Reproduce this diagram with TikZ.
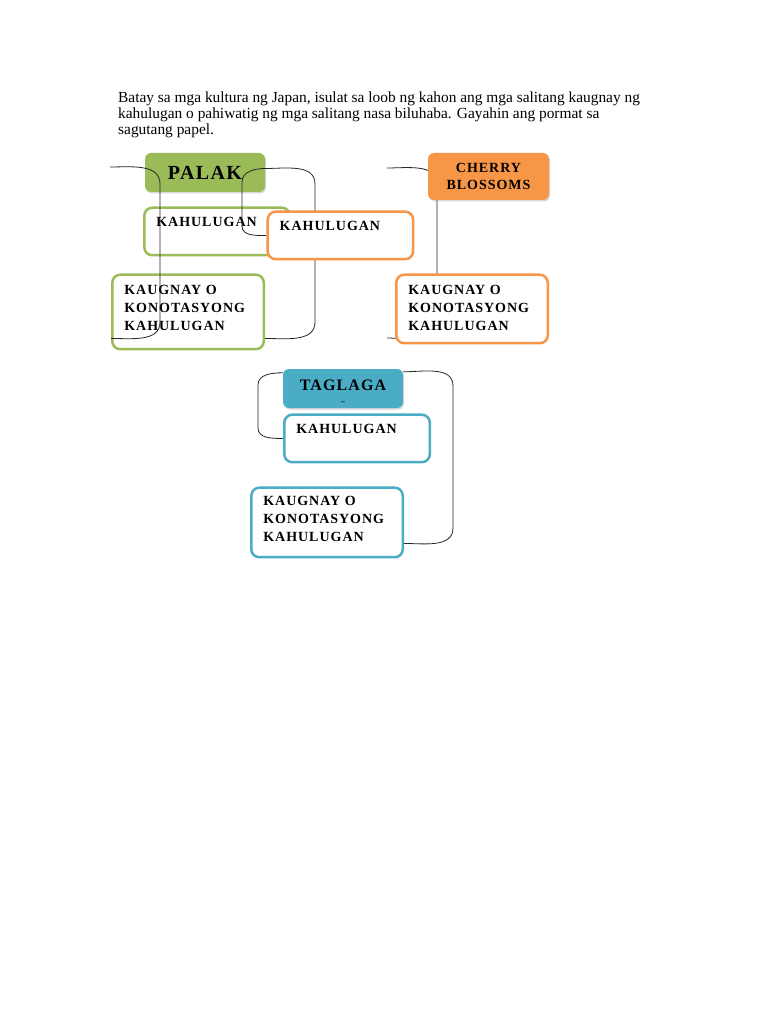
\documentclass[tikz,border=0pt]{standalone}
\usepackage{fontspec}
\setmainfont{Liberation Serif}
\newfontfamily\capsfont[LetterSpace=7]{Liberation Serif}
\usetikzlibrary{positioning,shadows}
\definecolor{palakgreen}{HTML}{9BBB59}
\definecolor{cherryorange}{HTML}{F79646}
\definecolor{taglagablue}{HTML}{4BACC6}
\pgfdeclarelayer{bottom}
\pgfdeclarelayer{wires}
\pgfsetlayers{bottom,wires,main}

\begin{document}
\begin{tikzpicture}[x=1pt, y=-1pt,
	topic/.style={rounded corners=6pt, inner sep=0pt, align=center, font=\capsfont\bfseries\fontsize{14}{17}\selectfont, drop shadow={shadow xshift=1pt, shadow yshift=-1.5pt, opacity=0.3}},
	subbox/.style={draw, line width=2.5pt, rounded corners=8pt, fill=white, align=left, inner xsep=12pt, font=\capsfont\bfseries\fontsize{14}{18}\selectfont},
	meaning/.style={subbox, text width=121.5pt, inner ysep=8pt, text height=11pt, text depth=20.5pt},
	relation/.style={subbox, text width=127.5pt, inner ysep=0pt},
	brace/.style={line width=0.8pt, black!85}]
	\useasboundingbox (0,0) rectangle (768,1024);
	\node[anchor=base west, align=left, inner sep=0pt, font=\fontsize{15.4}{16}\selectfont] (intro) at (118,135)
		{Batay sa mga kultura ng Japan, isulat sa loob ng kahon ang mga salitang kaugnay ng\\
		kahulugan o pahiwatig ng mga salitang nasa biluhaba. Gayahin ang pormat sa\\
		sagutang papel.};

	% palak
	\begin{pgfonlayer}{bottom}
	\fill[white] (0,0) rectangle (768,1024);
	\node[topic, fill=palakgreen, minimum width=120pt, minimum height=39pt, font=\capsfont\bfseries\fontsize{20}{22}\selectfont] (palak) at (205,172.5) {PALAK};
	\node[meaning, draw=palakgreen, below right=14.25pt and -1.75pt of palak.south west] (kahG) {KAHULUGAN};
	\node[relation, draw=palakgreen, minimum height=74.5pt, text depth=44pt, below right=81.25pt and -33.75pt of palak.south west] (kaugG) {KAUGNAY O\\KONOTASYONG\\KAHULUGAN};
	\end{pgfonlayer}
	\node[meaning, draw=cherryorange, below right=18.25pt and 1.25pt of palak.south east] (kahO) {KAHULUGAN};

	% cherry blossoms
	\node[topic, fill=cherryorange, minimum width=121pt, minimum height=47pt] (cherry) at (488.5,176.5) {CHERRY\\BLOSSOMS};
	\node[relation, draw=cherryorange, minimum height=68.5pt, text depth=38pt, below right=73.25pt and -32.75pt of cherry.south west] (kaugO) {KAUGNAY O\\KONOTASYONG\\KAHULUGAN};

	% taglagas
	\node[topic, fill=taglagablue, minimum width=120pt, minimum height=39pt, text height=32pt, font=\capsfont\bfseries\fontsize{16}{14}\selectfont] (taglaga) at (343,388.5) {TAGLAGA\\[0pt]{\fontsize{7}{7}\selectfont\textasciitilde}};
	\node[meaning, draw=taglagablue, below right=5.25pt and 0.25pt of taglaga.south west] (kahB) {KAHULUGAN};
	\node[relation, draw=taglagablue, minimum height=69.5pt, text depth=43pt, below right=78.25pt and -32.75pt of taglaga.south west] (kaugB) {KAUGNAY O\\KONOTASYONG\\KAHULUGAN};

	\coordinate (palakfree) at (110,167);
	\coordinate (cherryfree) at (387,168);
	\coordinate (cherryend) at (387,338);

	\begin{pgfonlayer}{wires}
	\draw[brace] (palakfree) to[out=0, in=90] (160,184) -- (160,322) to[out=-90, in=0] ([yshift=-26.5pt]kaugG.west);
	\draw[brace] ([yshift=4pt]palak.east) to[out=180, in=90] (242,182) -- (242,226) to[out=-90, in=180] (kahO.west);
	\draw[brace] ([yshift=4pt]palak.east) to[out=0, in=90] (315,184) -- (315,322) to[out=-90, in=0] ([yshift=-26.5pt]kaugG.east);
	\draw[brace] (cherryfree) to[out=0, in=90] (437,184) -- (437,325) to[out=-90, in=0] (cherryend);
	\draw[brace] ([yshift=-4pt]taglaga.north west) to[out=180, in=90] (258,385) -- (258,428) to[out=-90, in=180] (kahB.west);
	\draw[brace] ([yshift=-3pt]taglaga.north east) to[out=0, in=90] (453,386) -- (453,528) to[out=-90, in=0] ([yshift=-21pt]kaugB.east);
	\end{pgfonlayer}
\end{tikzpicture}
\end{document}
